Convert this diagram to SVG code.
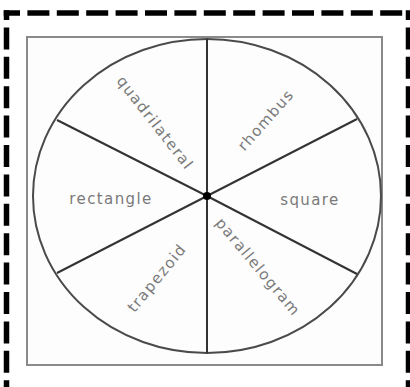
<svg xmlns="http://www.w3.org/2000/svg" width="410" height="387" viewBox="0 0 410 387">
<style>
.lbl{font-family:"DejaVu Sans","Liberation Sans",sans-serif;font-size:15px;fill:#7a7a7a;text-anchor:middle;letter-spacing:1.4px}
.dash{stroke:#000;stroke-width:5.5;fill:none;stroke-dasharray:22 7.4}
.spoke{stroke:#333;stroke-width:2;fill:none}
</style>
<rect x="0" y="0" width="410" height="387" fill="#fff"/>
<g id="border">
<line class="dash" x1="6.5" y1="10.25" x2="6.5" y2="395" stroke-dashoffset="12.25"/>
<line class="dash" x1="408.5" y1="10.25" x2="408.5" y2="395" stroke-dashoffset="12.25"/>
<line class="dash" x1="3.75" y1="13" x2="405.75" y2="13" stroke-dashoffset="5.75"/>
</g>
<g id="frame">
<rect x="27" y="37" width="355" height="328" fill="#fdfdfd" stroke="#8a8a8a" stroke-width="2"/>
</g>
<g id="wheel">
<ellipse cx="207" cy="196" rx="174" ry="157" fill="none" stroke="#4a4a4a" stroke-width="2"/>
</g>
<g id="connectors">
<line class="spoke" x1="207" y1="196" x2="207" y2="39"/>
<line class="spoke" x1="207" y1="196" x2="207" y2="353"/>
<line class="spoke" x1="207" y1="196" x2="57" y2="120"/>
<line class="spoke" x1="207" y1="196" x2="357" y2="119"/>
<line class="spoke" x1="207" y1="196" x2="57" y2="273"/>
<line class="spoke" x1="207" y1="196" x2="357" y2="274"/>
</g>
<g id="hub"><circle cx="207" cy="196" r="4" fill="#000"/></g>
<g id="quadrilateral"><text class="lbl" transform="translate(155,123) rotate(52)" x="0" y="5">quadrilateral</text></g>
<g id="rhombus"><text class="lbl" transform="translate(266,120) rotate(-48.5)" x="0" y="5">rhombus</text></g>
<g id="rectangle"><text class="lbl" x="111" y="204">rectangle</text></g>
<g id="square"><text class="lbl" x="310" y="205">square</text></g>
<g id="trapezoid"><text class="lbl" transform="translate(157,278) rotate(-50.6)" x="0" y="5">trapezoid</text></g>
<g id="parallelogram"><text class="lbl" transform="translate(258,267) rotate(50)" x="0" y="5">parallelogram</text></g>
</svg>
